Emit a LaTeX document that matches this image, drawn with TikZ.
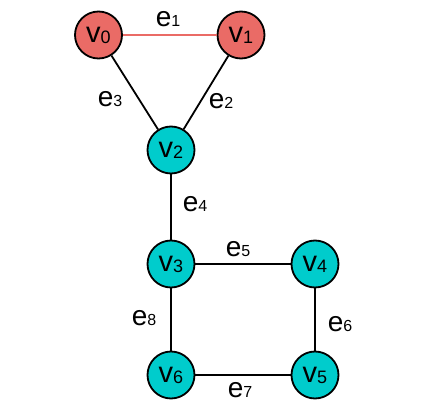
\documentclass[tikz,border=0pt]{standalone}
\usepackage{fontspec}
\setmainfont{Liberation Sans}
\definecolor{nred}{HTML}{EA6B66}
\definecolor{ncyan}{HTML}{00CCCC}
\newcommand{\vlab}[1]{{\fontsize{29}{29}\selectfont v}{\fontsize{18}{18}\selectfont\raisebox{-1pt}{#1}}}
\newcommand{\elab}[1]{{\fontsize{28}{28}\selectfont e}{\fontsize{16}{16}\selectfont\raisebox{-0.5pt}{#1}}}
\begin{document}
\begin{tikzpicture}[x=1pt,y=-1pt,
  vtx/.style={circle,draw=black,line width=1.8pt,minimum size=47pt,inner sep=0pt},
  rv/.style={vtx,fill=nred},
  cv/.style={vtx,fill=ncyan},
  edge/.style={line width=1.8pt,draw=black},
  el/.style={inner sep=0pt}]
\useasboundingbox (0,0) rectangle (421,415);
\node[rv] (v0) at (98.5,35) {\vlab{0}};
\node[rv] (v1) at (241,35) {\vlab{1}};
\node[cv] (v2) at (171,150) {\vlab{2}};
\node[cv] (v3) at (171,264) {\vlab{3}};
\node[cv] (v4) at (315,264) {\vlab{4}};
\node[cv] (v6) at (171,375) {\vlab{6}};
\node[cv] (v5) at (315,375) {\vlab{5}};
\draw[line width=1.8pt,draw=nred] (v0) -- (v1);
\draw[edge] (v0) -- (v2);
\draw[edge] (v1) -- (v2);
\draw[edge] (v2) -- (v3);
\draw[edge] (v3) -- (v4);
\draw[edge] (v4) -- (v5);
\draw[edge] (v6) -- (v5);
\draw[edge] (v3) -- (v6);
\node[el] (e1) at (168,19) {\elab{1}};
\node[el] (e3) at (110,99) {\elab{3}};
\node[el] (e2) at (221,101) {\elab{2}};
\node[el] (e4) at (195,204) {\elab{4}};
\node[el] (e5) at (238,249) {\elab{5}};
\node[el] (e6) at (340,324) {\elab{6}};
\node[el] (e8) at (144,318) {\elab{8}};
\node[el] (e7) at (240,390) {\elab{7}};
\end{tikzpicture}
\end{document}
